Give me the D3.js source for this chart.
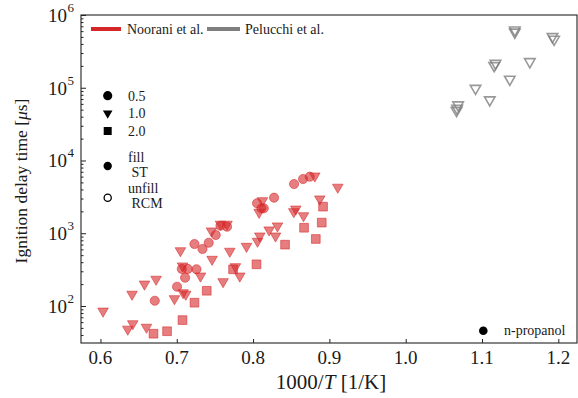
<!DOCTYPE html>
<html><head><meta charset="utf-8">
<script src="https://cdn.jsdelivr.net/npm/d3@7"></script>
<style>body{margin:0;background:#fff}svg{display:block}</style>
</head><body><svg id="c" width="578" height="398" font-family="'Liberation Serif', 'DejaVu Serif', serif"></svg>
<script>
// Noorani et al. (red), phi = 0.5 circles
const nooraniCircleX = [0.6712,0.7004,0.7109,0.7066,0.7144,0.7258,0.7232,0.7337,0.7419,0.7511,0.7573,0.7659,0.8052,0.8110,0.8140,0.8275,0.8537,0.8655,0.8743];
const nooraniCircleY = [118,184,245,323,323,320,711,608,741,946,1270,1230,2580,2200,2200,3080,4750,5570,5990];
// phi = 1.0 triangles
const nooraniTriX = [0.6034,0.6414,0.6577,0.6729,0.6970,0.7083,0.7118,0.7075,0.7048,0.6603,0.6423,0.6358,0.7311,0.7463,0.7455,0.7573,0.7659,0.7695,0.7769,0.7826,0.7607,0.7914,0.8058,0.8088,0.8210,0.8320,0.8294,0.8123,0.8079,0.8533,0.8560,0.8661,0.8874,0.8809,0.9110];
const nooraniTriY = [85,145,200,233,126,152,145,355,575,51,57,48,258,438,1075,1330,1330,565,347,258,216,660,776,916,1110,1260,916,2800,1940,1980,2150,1740,2960,6120,4290];
// phi = 2.0 squares
const nooraniSqX = [0.6695,0.6873,0.7075,0.7232,0.7393,0.7738,0.8045,0.8419,0.8668,0.8917,0.8900,0.8822];
const nooraniSqY = [41.6,45,64,111,162,319,374,697,1190,2320,1400,834];
// Pelucchi et al. (gray), phi = 1.0 open triangles (RCM)
const pelucchiX = [1.1430,1.1430,1.1924,1.1945,1.1177,1.1160,1.1627,1.1364,1.0915,1.1102,1.0687,1.0674,1.0666];
const pelucchiY = [622000,580000,504000,463000,217000,201000,228000,131000,98000,68000,58000,52000,48500];

const xTicks = [0.6,0.7,0.8,0.9,1.0,1.1,1.2];
const xTickLabels = ["0.6","0.7","0.8","0.9","1.0","1.1","1.2"];
const yTicks = [1e2,1e3,1e4,1e5,1e6];
const yTickExps = ["2","3","4","5","6"];
const sourceLabels = ["Noorani et al.","Pelucchi et al."];
const phiLabels = ["0.5","1.0","2.0"];

const svg = d3.select("#c");
const L=81,R=577,T=15,B=343;
const x = d3.scaleLinear().domain([0.5745,1.2245]).range([L,R]);
const y = d3.scaleLog().domain([31,1e6]).range([B,T]);
const RED="#d62728", GRAY="#7f7f7f", INK="#1a1a1a";
const LF = 14;

// frame
svg.append("rect").attr("x",L).attr("y",T).attr("width",R-L).attr("height",B-T)
  .attr("fill","none").attr("stroke","#222").attr("stroke-width",1.1);

// x axis (inward ticks)
const gx = svg.append("g").attr("transform",`translate(0,${B})`)
  .call(d3.axisBottom(x).tickValues(xTicks).tickSize(-4).tickFormat(""));
gx.select(".domain").remove();
gx.selectAll("line").attr("stroke","#222");
svg.append("g").selectAll("text").data(xTicks).join("text")
  .attr("x",d=>x(d)).attr("y",B+21).attr("text-anchor","middle").attr("fill",INK)
  .attr("font-size",19).text((d,i)=>xTickLabels[i]);

// y axis major + minor ticks inward
const gy = svg.append("g").attr("transform",`translate(${L},0)`)
  .call(d3.axisLeft(y).tickValues(yTicks).tickSize(-5).tickFormat(""));
gy.select(".domain").remove();
gy.selectAll("line").attr("stroke","#222");
const minors=[];
for(let e=1;e<6;e++) for(let m=2;m<10;m++){const v=m*Math.pow(10,e); if(v>=31&&v<1e6) minors.push(v);}
const gym = svg.append("g").attr("transform",`translate(${L},0)`)
  .call(d3.axisLeft(y).tickValues(minors).tickSize(-2.5).tickFormat(""));
gym.select(".domain").remove();
gym.selectAll("line").attr("stroke","#222");
const yl = svg.append("g").selectAll("g").data(yTicks).join("g");
yl.append("text").attr("x",67).attr("y",d=>y(d)+7).attr("text-anchor","end").attr("font-size",19).attr("fill",INK).text("10");
yl.append("text").attr("x",67.5).attr("y",d=>y(d)-3).attr("font-size",13).attr("fill",INK).text((d,i)=>yTickExps[i]);

// axis titles
svg.append("text").attr("transform",`translate(27,${(T+B)/2+2}) rotate(-90)`).attr("text-anchor","middle").attr("font-size",17.5).attr("fill",INK)
  .html('Ignition delay time [<tspan font-style="italic">μ</tspan>s]');
svg.append("text").attr("x",331).attr("y",389).attr("text-anchor","middle").attr("font-size",21).attr("fill",INK)
  .html('1000/<tspan font-style="italic">T</tspan> [1/K]');

const tri = d3.symbol().type(d3.symbolTriangle).size(48);
const circ = d3.symbol().type(d3.symbolCircle).size(66);
const sq = d3.symbol().type(d3.symbolSquare).size(76);

function plot(xs, ys, sym, rot){
  svg.append("g").selectAll("path").data(xs.map((v,i)=>[v,ys[i]])).join("path")
    .attr("d",sym).attr("transform",d=>`translate(${x(d[0])},${y(d[1])}) rotate(${rot})`)
    .attr("fill",RED).attr("fill-opacity",0.6).attr("stroke",RED).attr("stroke-opacity",0.55).attr("stroke-width",1);
}
plot(nooraniSqX,nooraniSqY,sq,0);
plot(nooraniTriX,nooraniTriY,tri,180);
plot(nooraniCircleX,nooraniCircleY,circ,0);

svg.append("g").selectAll("path").data(pelucchiX.map((v,i)=>[v,pelucchiY[i]])).join("path")
  .attr("d",tri).attr("transform",d=>`translate(${x(d[0])},${y(d[1])}) rotate(180)`)
  .attr("fill","none").attr("stroke",GRAY).attr("stroke-opacity",0.8).attr("stroke-width",1.6);

// top legend
const srcCol=[RED,GRAY], srcX=[91,207], srcW=[30,33], srcTx=[127,245];
const lg = svg.append("g");
sourceLabels.forEach((s,i)=>{
  lg.append("rect").attr("x",srcX[i]).attr("y",27).attr("width",srcW[i]).attr("height",4).attr("fill",srcCol[i]);
  lg.append("text").attr("x",srcTx[i]).attr("y",34).attr("font-size",LF).attr("fill",INK).text(s);
});

// phi legend
const phiSyms=[circ,d3.symbol().type(d3.symbolTriangle).size(40),d3.symbol().type(d3.symbolSquare).size(64)];
const phiY=[95.7,113.3,131];
phiLabels.forEach((s,i)=>{
  lg.append("path").attr("d",phiSyms[i]).attr("transform",`translate(107.7,${phiY[i]}) rotate(${i===1?180:0})`).attr("fill","#000");
  lg.append("text").attr("x",128).attr("y",phiY[i]+5).attr("font-size",LF).attr("fill",INK).text(s);
});
lg.append("circle").attr("cx",107.7).attr("cy",166).attr("r",4.2).attr("fill","#000");
lg.append("text").attr("x",128).attr("y",162).attr("font-size",LF).attr("fill",INK).text("fill");
lg.append("text").attr("x",131.5).attr("y",176.5).attr("font-size",LF).attr("fill",INK).text("ST");
lg.append("circle").attr("cx",107.7).attr("cy",197.7).attr("r",3.6).attr("fill","#fff").attr("stroke","#000").attr("stroke-width",1.3);
lg.append("text").attr("x",128).attr("y",193).attr("font-size",LF).attr("fill",INK).text("unfill");
lg.append("text").attr("x",131.5).attr("y",208).attr("font-size",LF).attr("fill",INK).text("RCM");

// fuel legend
lg.append("circle").attr("cx",483.3).attr("cy",330.7).attr("r",4.3).attr("fill","#000");
lg.append("text").attr("x",504).attr("y",335).attr("font-size",LF).attr("fill",INK).text("n-propanol");
</script></body></html>
